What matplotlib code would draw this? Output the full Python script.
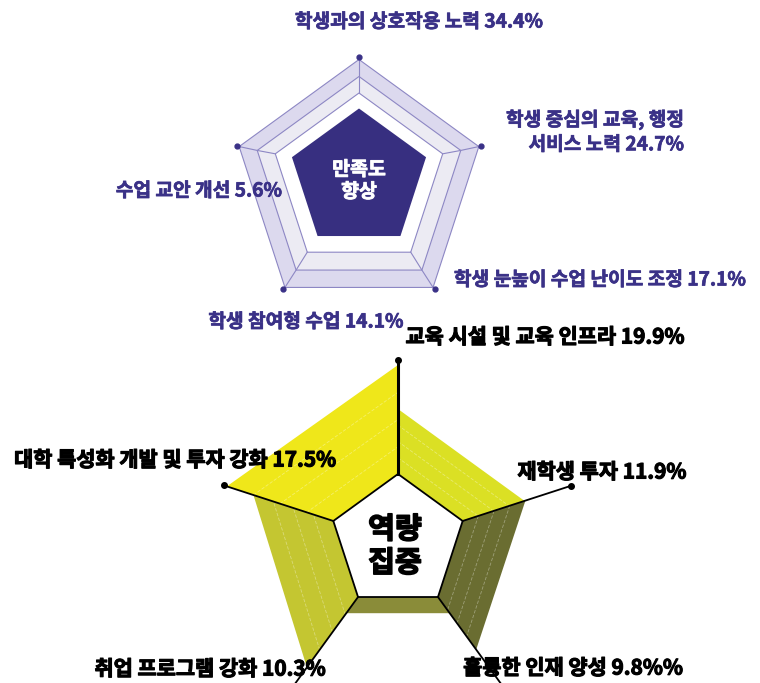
import numpy as np
import matplotlib
matplotlib.use("Agg")
import matplotlib.pyplot as plt
import matplotlib.patheffects as pe
from matplotlib.patches import Polygon

plt.rcParams['font.family'] = ['Noto Sans CJK KR', 'DejaVu Sans']

# top chart: satisfaction factors (clockwise from the top)
top_names = ["학생과의 상호작용 노력", "학생 중심의 교육, 행정\n서비스 노력", "학생 눈높이 수업 난이도 조정",
             "학생 참여형 수업", "수업 교안 개선"]
top_values = [34.4, 24.7, 17.1, 14.1, 5.6]
top_center_text = "만족도\n향상"

# bottom chart: capability focus (clockwise from the top)
bottom_names = ["교육 시설 및 교육 인프라", "재학생 투자", "훌륭한 인재 양성",
                "취업 프로그램 강화", "대학 특성화 개발 및 투자 강화"]
bottom_values = [19.9, 11.9, 9.8, 10.3, 17.5]
bottom_units = ["%", "%", "%%", "%", "%"]
bottom_center_text = "역량\n집중"

PURPLE = "#3a3187"
angles = np.deg2rad([90, 18, -54, -126, 162])


def pt(cx, cy, r, a):
    return cx + r * np.cos(a), cy - r * np.sin(a)


def pentagon(cx, cy, r):
    return [pt(cx, cy, r, a) for a in angles]


def thick(col, w):
    return [pe.withStroke(linewidth=w, foreground=col)]


fig = plt.figure(figsize=(7.6, 6.83), dpi=100)
ax = fig.add_axes([0, 0, 1, 1])
ax.set_xlim(0, 760)
ax.set_ylim(683, 0)
ax.axis('off')

# ---- top pentagon ----
tcx = 359
rings = [(126, 185.5, "#dcd9ee"), (107, 183.5, "#ecebf3"), (88, 181, "white")]
for r, cy, col in rings:
    ax.add_patch(Polygon(pentagon(tcx, cy, r), closed=True, fc=col, ec="#8d87c4", lw=0.8, zorder=1))
for a in angles:
    xs, ys = zip(*[pt(tcx, cy, r, a) for r, cy, col in rings])
    ax.plot(xs, ys, color="#8d87c4", lw=0.8, zorder=2)
ax.add_patch(Polygon(pentagon(tcx, 179, 70.5), closed=True, fc="#372f80", ec="none", zorder=3))
for a in angles:
    x, y = pt(tcx, 185.5, 128.5, a)
    ax.plot(x, y, 'o', ms=3.5, color=PURPLE, zorder=4)
ax.text(tcx, 181, top_center_text, color="white", fontsize=14, fontweight="bold",
        ha="center", va="center", linespacing=1.2, zorder=5, path_effects=thick("white", 0.6))

top_pos = [(419, 22, "center"), (684, 132, "right"), (600, 280, "center"),
           (306, 322, "center"), (199, 191, "center")]
for name, v, (x, y, ha) in zip(top_names, top_values, top_pos):
    ax.text(x, y, f"{name} {v}%", color=PURPLE, fontsize=13.8, fontweight="bold",
            ha=ha, va="center", multialignment="right", linespacing=1.35, zorder=5,
            path_effects=thick(PURPLE, 0.5))

# ---- bottom pentagon ----
bcx, bcy, r_in = 398, 542, 68
# outer extent of each side panel on its two axes, and panel colour
side_r = [(133, 133), (134, 133), (88, 88), (155, 152), (180, 177)]
side_col = ["#dbe024", "#6a6d31", "#8a8c39", "#c4c631", "#efe71a"]
for i in range(5):
    a0, a1 = angles[i], angles[(i + 1) % 5]
    ro0, ro1 = side_r[i]
    in0, in1 = pt(bcx, bcy, r_in, a0), pt(bcx, bcy, r_in, a1)
    out0, out1 = pt(bcx, bcy, ro0, a0), pt(bcx, bcy, ro1, a1)
    ax.add_patch(Polygon([in0, out0, out1, in1], closed=True, fc=side_col[i], ec="none", zorder=1))
    if i != 2:
        for t in (0.25, 0.5, 0.75):
            p0 = np.array(in0) + t * (np.array(out0) - np.array(in0))
            p1 = np.array(in1) + t * (np.array(out1) - np.array(in1))
            ax.plot([p0[0], p1[0]], [p0[1], p1[1]], color="white", lw=0.6, alpha=0.35,
                    ls=(0, (4, 2)), zorder=2)

ax.add_patch(Polygon(pentagon(bcx, bcy, r_in), closed=True, fc="white", ec="black", lw=1.3, zorder=3))
spoke_len = [182, 182, 174, 174, 183]
spoke_lw = [2.2, 1.3, 1.3, 1.3, 1.3]
for a, L, lw, has_dot in zip(angles, spoke_len, spoke_lw, [True, True, False, False, True]):
    x0, y0 = pt(bcx, bcy, r_in, a)
    x1, y1 = pt(bcx, bcy, L, a)
    ax.plot([x0, x1], [y0, y1], color="black", lw=lw, zorder=4)
    if has_dot:
        ax.plot(x1, y1, 'o', ms=4, color="black", zorder=4)
ax.text(bcx - 3, 546, bottom_center_text, color="black", fontsize=21, fontweight="heavy",
        ha="center", va="center", linespacing=1.15, zorder=5, path_effects=thick("black", 1.2))

bottom_pos = [(545, 337), (602, 472), (573, 668), (210, 669), (175, 460)]
for name, v, u, (x, y) in zip(bottom_names, bottom_values, bottom_units, bottom_pos):
    ax.text(x, y, f"{name} {v}{u}", color="black", fontsize=15, fontweight="heavy",
            ha="center", va="center", zorder=5, path_effects=thick("black", 0.8))

fig.savefig("out.png", dpi=100)
